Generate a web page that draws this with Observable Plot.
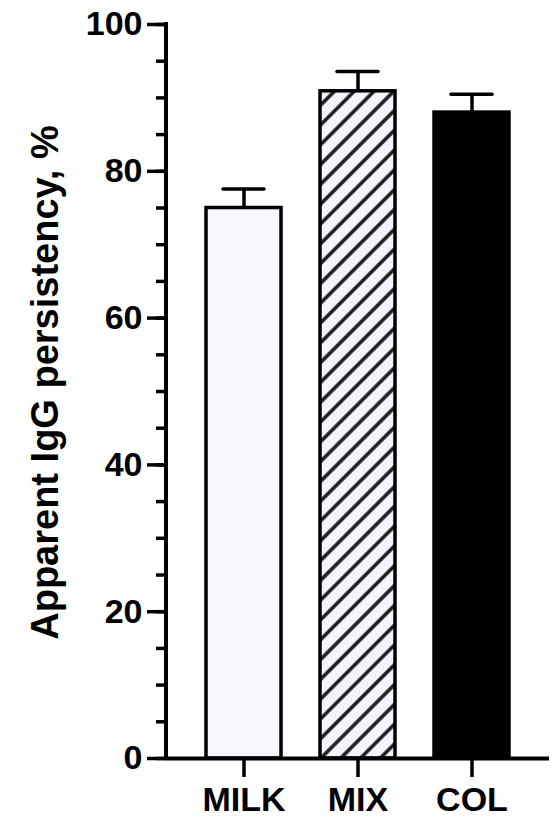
<!DOCTYPE html>
<html><head><meta charset="utf-8">
<script src="https://cdn.jsdelivr.net/npm/d3@7"></script>
<script src="https://cdn.jsdelivr.net/npm/@observablehq/plot@0.6"></script>
<style>body{margin:0;background:#fff}</style>
</head><body><div id="chart"></div>
<script>
const groups = ["MILK", "MIX", "COL"];
const means = [75.0, 90.9, 88.0];
const uppers = [77.6, 93.6, 90.5];
const yMajorTicks = [0, 20, 40, 60, 80, 100];
const yMinorTicks = d3.range(0, 101, 5);
const yTitle = "Apparent IgG persistency, %";

const data = groups.map((g, i) => ({group: g, mean: means[i], upper: uppers[i]}));
const fills = {MILK: "#f8f7fd", MIX: "url(#hatch)", COL: "#000000"};
const font = "'Liberation Sans', Arial, Helvetica, sans-serif";

const plot = Plot.plot({
  width: 556, height: 818,
  marginLeft: 166, marginRight: 7, marginTop: 24, marginBottom: 60,
  style: {fontFamily: font, fontWeight: "bold", fontSize: "34px", background: "#fff", color: "#000", overflow: "visible"},
  x: {domain: groups, padding: 0.34, label: null},
  y: {domain: [0, 100], label: null},
  color: {type: "identity"},
  marks: [
    Plot.ruleX(data, {x: "group", y1: "mean", y2: "upper", strokeWidth: 3.5, stroke: "#000"}),
    Plot.tickY(data, {x: "group", y: "upper", strokeWidth: 3.5, stroke: "#000", insetLeft: 17, insetRight: 17, strokeLinecap: "round"}),
    Plot.barY(data, {x: "group", y: "mean", fill: d => fills[d.group], stroke: "#000", strokeWidth: 3.5}),
    Plot.ruleY([0], {strokeWidth: 4, stroke: "#000"}),
    Plot.axisY({ticks: yMinorTicks, tickSize: 10, tickFormat: () => "", strokeWidth: 3.5, label: null}),
    Plot.axisY({ticks: yMajorTicks, tickSize: 19, tickPadding: 5, strokeWidth: 3.5, label: null}),
    Plot.axisX({tickSize: 19, tickPadding: 9, strokeWidth: 3.5, label: null}),
    Plot.text([yTitle], {text: d => d, frameAnchor: "left", textAnchor: "middle", rotate: -90, dx: -121, dy: -9, fontSize: 38, fontWeight: "bold"})
  ]
});

const svg = d3.select(plot);
const defs = svg.insert("defs", ":first-child");
const pat = defs.append("pattern")
  .attr("id", "hatch")
  .attr("patternUnits", "userSpaceOnUse")
  .attr("width", 14).attr("height", 14)
  .attr("patternTransform", "rotate(45)");
pat.append("rect").attr("width", 14).attr("height", 14).attr("fill", "#f5f3fb");
pat.append("line").attr("x1", 7).attr("y1", -1).attr("x2", 7).attr("y2", 15)
  .attr("stroke", "#1a1a1a").attr("stroke-width", 3.5);

// vertical axis line through the plot's own scales
const ys = plot.scale("y");
const xLeft = 166;
svg.append("line")
  .attr("x1", xLeft).attr("x2", xLeft)
  .attr("y1", ys.apply(100) - 2).attr("y2", ys.apply(0))
  .attr("stroke", "#000").attr("stroke-width", 4);

document.getElementById("chart").appendChild(plot);
</script>
</body></html>
